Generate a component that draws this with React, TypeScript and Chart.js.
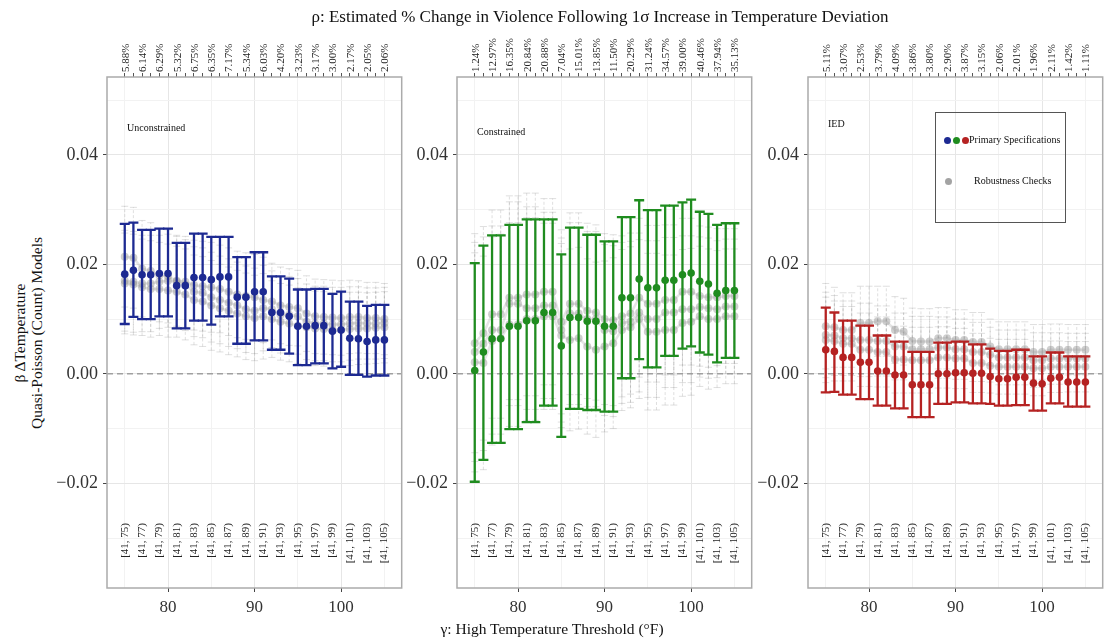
import React, { useEffect, useRef } from "react";
import { Chart, registerables } from "chart.js";

Chart.register(...registerables);

const FONT = "'Liberation Serif', 'DejaVu Serif', serif";

// ---------- shared axis data ----------
const thresholds = [75, 76, 77, 78, 79, 80, 81, 82, 83, 84, 85, 86, 87, 88, 89, 90, 91, 92, 93, 94, 95, 96, 97, 98, 99, 100, 101, 102, 103, 104, 105];
const binLabelThresholds = [75, 77, 79, 81, 83, 85, 87, 89, 91, 93, 95, 97, 99, 101, 103, 105];
const binLabels = ["[41, 75)", "[41, 77)", "[41, 79)", "[41, 81)", "[41, 83)", "[41, 85)", "[41, 87)", "[41, 89)", "[41, 91)", "[41, 93)", "[41, 95)", "[41, 97)", "[41, 99)", "[41, 101)", "[41, 103)", "[41, 105)"];
const xMajorTicks = [80, 90, 100];
const xMajorLabels = ["80", "90", "100"];
const xMinorTicks = [75, 85, 95, 105];
const yMajorTicks = [-0.02, 0, 0.02, 0.04];
const yMajorLabels = ["\u22120.02", "0.00", "0.02", "0.04"];
const yMinorTicks = [-0.03, -0.01, 0.01, 0.03, 0.05];
const X_MIN = 72.95;
const X_MAX = 107.0;
const Y_MIN = -0.0391;
const Y_MAX = 0.0542;

// ---------- Unconstrained ----------
const unconstrainedRho = ["5.88%", "6.14%", "6.29%", "5.32%", "6.75%", "6.35%", "7.17%", "5.34%", "6.03%", "4.20%", "3.23%", "3.17%", "3.00%", "2.17%", "2.05%", "2.06%"];
const unconstrainedEst = [0.0182, 0.0189, 0.0181, 0.0181, 0.0183, 0.0183, 0.0161, 0.0161, 0.0176, 0.0176, 0.0172, 0.0177, 0.0177, 0.0140, 0.0140, 0.0150, 0.0150, 0.0112, 0.0112, 0.0105, 0.0087, 0.0087, 0.0088, 0.0088, 0.0078, 0.0080, 0.0065, 0.0064, 0.0059, 0.0062, 0.0062];
const unconstrainedHi = [0.0274, 0.0276, 0.0263, 0.0263, 0.0265, 0.0265, 0.0239, 0.0239, 0.0256, 0.0256, 0.0250, 0.0250, 0.0250, 0.0213, 0.0213, 0.0222, 0.0222, 0.0178, 0.0178, 0.0174, 0.0154, 0.0154, 0.0155, 0.0155, 0.0146, 0.0150, 0.0132, 0.0132, 0.0124, 0.0126, 0.0126];
const unconstrainedLo = [0.0091, 0.0104, 0.0100, 0.0100, 0.0105, 0.0105, 0.0083, 0.0083, 0.0097, 0.0097, 0.0090, 0.0105, 0.0105, 0.0055, 0.0055, 0.0061, 0.0061, 0.0044, 0.0044, 0.0037, 0.0016, 0.0016, 0.0019, 0.0019, 0.0010, 0.0013, -0.0002, -0.0002, -0.0005, -0.0003, -0.0003];
const unconstrainedRobustA = [0.0214, 0.0212, 0.0192, 0.0188, 0.0180, 0.0178, 0.0170, 0.0168, 0.0162, 0.0160, 0.0158, 0.0155, 0.0150, 0.0145, 0.0142, 0.0140, 0.0135, 0.0132, 0.0125, 0.0122, 0.0120, 0.0110, 0.0105, 0.0104, 0.0103, 0.0102, 0.0104, 0.0104, 0.0102, 0.0102, 0.0100];
const unconstrainedRobustB = [0.0170, 0.0168, 0.0165, 0.0165, 0.0168, 0.0170, 0.0168, 0.0162, 0.0150, 0.0148, 0.0140, 0.0135, 0.0130, 0.0125, 0.0118, 0.0115, 0.0120, 0.0118, 0.0108, 0.0108, 0.0105, 0.0095, 0.0092, 0.0092, 0.0090, 0.0090, 0.0092, 0.0093, 0.0092, 0.0092, 0.0093];
const unconstrainedRobustC = [0.0165, 0.0163, 0.0158, 0.0155, 0.0155, 0.0152, 0.0150, 0.0145, 0.0135, 0.0132, 0.0125, 0.0120, 0.0115, 0.0110, 0.0105, 0.0102, 0.0105, 0.0100, 0.0095, 0.0092, 0.0088, 0.0085, 0.0083, 0.0082, 0.0080, 0.0080, 0.0082, 0.0083, 0.0083, 0.0084, 0.0085];
const unconstrainedRobustHalfCI = [0.0092, 0.0092, 0.0088, 0.0088, 0.0085, 0.0085, 0.0083, 0.0083, 0.0082, 0.0082, 0.0082, 0.0080, 0.0080, 0.0079, 0.0079, 0.0078, 0.0078, 0.0070, 0.0070, 0.0070, 0.0069, 0.0069, 0.0068, 0.0068, 0.0068, 0.0068, 0.0067, 0.0066, 0.0065, 0.0065, 0.0065];

// ---------- Constrained ----------
const constrainedRho = ["1.24%", "12.97%", "16.35%", "20.84%", "20.88%", "7.04%", "15.01%", "13.85%", "11.50%", "20.29%", "31.24%", "34.57%", "39.00%", "40.46%", "37.94%", "35.13%"];
const constrainedEst = [0.0006, 0.0040, 0.0064, 0.0064, 0.0087, 0.0087, 0.0097, 0.0097, 0.0112, 0.0112, 0.0051, 0.0103, 0.0103, 0.0096, 0.0096, 0.0087, 0.0087, 0.0139, 0.0139, 0.0173, 0.0157, 0.0157, 0.0171, 0.0171, 0.0181, 0.0184, 0.0169, 0.0164, 0.0147, 0.0152, 0.0152];
const constrainedHi = [0.0202, 0.0234, 0.0253, 0.0253, 0.0272, 0.0272, 0.0282, 0.0282, 0.0282, 0.0282, 0.0218, 0.0267, 0.0267, 0.0254, 0.0254, 0.0242, 0.0242, 0.0286, 0.0286, 0.0317, 0.0299, 0.0299, 0.0307, 0.0307, 0.0313, 0.0318, 0.0296, 0.0292, 0.0272, 0.0275, 0.0275];
const constrainedLo = [-0.0197, -0.0157, -0.0126, -0.0126, -0.0101, -0.0101, -0.0088, -0.0088, -0.0058, -0.0058, -0.0115, -0.0064, -0.0064, -0.0066, -0.0066, -0.0069, -0.0069, -0.0008, -0.0008, 0.0027, 0.0012, 0.0012, 0.0033, 0.0033, 0.0046, 0.0050, 0.0039, 0.0035, 0.0021, 0.0029, 0.0029];
const constrainedRobustA = [0.0056, 0.0074, 0.0109, 0.0109, 0.0139, 0.0139, 0.0145, 0.0145, 0.0150, 0.0150, 0.0095, 0.0128, 0.0128, 0.0115, 0.0112, 0.0100, 0.0098, 0.0105, 0.0110, 0.0139, 0.0128, 0.0128, 0.0135, 0.0135, 0.0150, 0.0150, 0.0142, 0.0140, 0.0140, 0.0142, 0.0142];
const constrainedRobustB = [0.0040, 0.0055, 0.0080, 0.0080, 0.0128, 0.0128, 0.0120, 0.0120, 0.0125, 0.0125, 0.0080, 0.0110, 0.0110, 0.0100, 0.0100, 0.0080, 0.0078, 0.0093, 0.0095, 0.0112, 0.0100, 0.0100, 0.0112, 0.0112, 0.0118, 0.0118, 0.0122, 0.0120, 0.0118, 0.0123, 0.0123];
const constrainedRobustC = [0.0021, 0.0020, 0.0060, 0.0065, 0.0090, 0.0090, 0.0100, 0.0100, 0.0105, 0.0105, 0.0070, 0.0062, 0.0065, 0.0050, 0.0044, 0.0050, 0.0056, 0.0080, 0.0085, 0.0100, 0.0077, 0.0077, 0.0080, 0.0080, 0.0093, 0.0095, 0.0105, 0.0100, 0.0100, 0.0105, 0.0105];
const constrainedRobustHalfCI = [0.0200, 0.0195, 0.0190, 0.0190, 0.0186, 0.0186, 0.0185, 0.0185, 0.0170, 0.0170, 0.0168, 0.0166, 0.0166, 0.0160, 0.0160, 0.0156, 0.0156, 0.0147, 0.0147, 0.0145, 0.0143, 0.0143, 0.0137, 0.0137, 0.0134, 0.0134, 0.0128, 0.0128, 0.0125, 0.0123, 0.0123];

// ---------- IED ----------
const iedRho = ["5.11%", "3.07%", "2.53%", "3.79%", "4.09%", "3.86%", "3.80%", "2.90%", "3.87%", "3.15%", "2.06%", "2.01%", "1.96%", "2.11%", "1.42%", "1.11%"];
const iedEst = [0.0044, 0.0041, 0.0030, 0.0030, 0.0021, 0.0021, 0.0005, 0.0005, -0.0002, -0.0002, -0.0020, -0.0020, -0.0020, 0.0000, 0.0000, 0.0002, 0.0002, 0.0001, 0.0001, -0.0005, -0.0009, -0.0009, -0.0006, -0.0006, -0.0017, -0.0018, -0.0008, -0.0006, -0.0015, -0.0015, -0.0015];
const iedHi = [0.0121, 0.0112, 0.0097, 0.0097, 0.0088, 0.0088, 0.0070, 0.0070, 0.0059, 0.0059, 0.0040, 0.0040, 0.0040, 0.0057, 0.0057, 0.0059, 0.0059, 0.0054, 0.0054, 0.0046, 0.0042, 0.0042, 0.0044, 0.0044, 0.0032, 0.0032, 0.0039, 0.0039, 0.0032, 0.0032, 0.0032];
const iedLo = [-0.0034, -0.0033, -0.0038, -0.0038, -0.0046, -0.0046, -0.0058, -0.0058, -0.0063, -0.0063, -0.0079, -0.0079, -0.0079, -0.0055, -0.0055, -0.0052, -0.0052, -0.0054, -0.0054, -0.0055, -0.0058, -0.0058, -0.0057, -0.0057, -0.0067, -0.0067, -0.0054, -0.0054, -0.0060, -0.0060, -0.0060];
const iedRobustA = [0.0087, 0.0085, 0.0080, 0.0080, 0.0093, 0.0093, 0.0096, 0.0096, 0.0080, 0.0077, 0.0060, 0.0059, 0.0059, 0.0065, 0.0065, 0.0062, 0.0062, 0.0058, 0.0058, 0.0050, 0.0045, 0.0045, 0.0045, 0.0045, 0.0040, 0.0040, 0.0044, 0.0044, 0.0044, 0.0044, 0.0044];
const iedRobustB = [0.0071, 0.0070, 0.0065, 0.0065, 0.0062, 0.0062, 0.0060, 0.0060, 0.0050, 0.0050, 0.0045, 0.0045, 0.0045, 0.0048, 0.0048, 0.0045, 0.0045, 0.0040, 0.0040, 0.0035, 0.0030, 0.0030, 0.0030, 0.0030, 0.0025, 0.0025, 0.0028, 0.0028, 0.0028, 0.0028, 0.0028];
const iedRobustC = [0.0062, 0.0060, 0.0055, 0.0055, 0.0044, 0.0044, 0.0040, 0.0040, 0.0026, 0.0026, 0.0025, 0.0025, 0.0025, 0.0030, 0.0030, 0.0028, 0.0028, 0.0020, 0.0020, 0.0015, 0.0013, 0.0013, 0.0013, 0.0013, 0.0010, 0.0010, 0.0013, 0.0013, 0.0013, 0.0013, 0.0013];
const iedRobustHalfCI = [0.0078, 0.0073, 0.0068, 0.0068, 0.0067, 0.0067, 0.0064, 0.0064, 0.0061, 0.0061, 0.0060, 0.0060, 0.0060, 0.0056, 0.0056, 0.0055, 0.0055, 0.0054, 0.0054, 0.0050, 0.0050, 0.0050, 0.0050, 0.0050, 0.0050, 0.0050, 0.0047, 0.0047, 0.0046, 0.0046, 0.0046];

const BLUE = "#1d2a92";
const GREEN = "#1f8c1f";
const RED = "#b52222";
const GRAY_PT = "rgba(140,140,140,0.42)";
const GRAY_LINE = "rgba(150,150,150,0.25)";
const GRAY_ERR = "rgba(150,150,150,0.3)";

type PanelSpec = {
  name: string;
  rho: string[];
  est: number[];
  lo: number[];
  hi: number[];
  robust: number[][];
  robustHalf: number[];
  color: string;
  nameDx: number;
  nameDy: number;
};

const panels: PanelSpec[] = [
  { name: "Unconstrained", rho: unconstrainedRho, est: unconstrainedEst, lo: unconstrainedLo, hi: unconstrainedHi, robust: [unconstrainedRobustA, unconstrainedRobustB, unconstrainedRobustC], robustHalf: unconstrainedRobustHalfCI, color: BLUE, nameDx: 20, nameDy: 51 },
  { name: "Constrained", rho: constrainedRho, est: constrainedEst, lo: constrainedLo, hi: constrainedHi, robust: [constrainedRobustA, constrainedRobustB, constrainedRobustC], robustHalf: constrainedRobustHalfCI, color: GREEN, nameDx: 20, nameDy: 55 },
  { name: "IED", rho: iedRho, est: iedEst, lo: iedLo, hi: iedHi, robust: [iedRobustA, iedRobustB, iedRobustC], robustHalf: iedRobustHalfCI, color: RED, nameDx: 20, nameDy: 47 },
];

const PANEL_LEFTS = [47, 397, 748];
const AXIS_W = 60;
const PLOT_W = 296;
const PAD_R = 6;
const CANVAS_W = AXIS_W + PLOT_W + PAD_R;
const CANVAS_H = 639;

const near = (a: number, b: number) => Math.abs(a - b) < 1e-9;

function errorSegments(lo: number[], hi: number[]) {
  const out: { x: number; y: number | null }[] = [];
  thresholds.forEach((x, i) => {
    out.push({ x, y: lo[i] }, { x, y: hi[i] }, { x, y: null });
  });
  return out;
}

const panelDecor = {
  id: "panelDecor",
  afterDatasetsDraw(chart: any, _args: any, opts: any) {
    const { ctx, chartArea: a, scales } = chart;
    ctx.save();
    ctx.font = `11px ${FONT}`;
    ctx.fillStyle = "#222";
    ctx.textBaseline = "middle";
    // in-panel bin labels
    ctx.textAlign = "right";
    binLabelThresholds.forEach((t, i) => {
      const x = scales.x.getPixelForValue(t);
      ctx.save();
      ctx.translate(x, a.bottom - 65);
      ctx.rotate(-Math.PI / 2);
      ctx.fillText(binLabels[i], 0, 0);
      ctx.restore();
    });
    // top rho labels
    ctx.textAlign = "left";
    binLabelThresholds.forEach((t, i) => {
      const x = scales.xTop.getPixelForValue(t);
      ctx.save();
      ctx.translate(x + 1, a.top - 5);
      ctx.rotate(-Math.PI / 2);
      ctx.fillText(opts.rho[i], 0, 0);
      ctx.restore();
    });
    ctx.font = `10px ${FONT}`;
    ctx.textAlign = "left";
    ctx.fillStyle = "#111";
    ctx.fillText(opts.name, a.left + opts.nameDx, a.top + opts.nameDy);
    ctx.strokeStyle = "#ababab";
    ctx.lineWidth = 1.5;
    ctx.strokeRect(a.left, a.top, a.right - a.left, a.bottom - a.top);
    ctx.restore();
  },
};

function Panel({ spec, left }: { spec: PanelSpec; left: number }) {
  const ref = useRef<HTMLCanvasElement | null>(null);
  useEffect(() => {
    const datasets: any[] = [];
    datasets.push({
      type: "line",
      data: errorSegments(spec.lo, spec.hi),
      borderColor: spec.color,
      borderWidth: 2.3,
      spanGaps: false,
      pointStyle: "line",
      pointRadius: 5,
      pointBorderColor: spec.color,
      pointBorderWidth: 2.3,
      order: 1,
    });
    datasets.push({
      type: "line",
      data: thresholds.map((x, i) => ({ x, y: spec.est[i] })),
      showLine: false,
      pointStyle: "circle",
      pointRadius: 3.8,
      pointBackgroundColor: spec.color,
      pointBorderWidth: 0,
      order: 0,
    });
    spec.robust.forEach((r, k) => {
      datasets.push({
        type: "line",
        data: errorSegments(
          r.map((v, i) => v - spec.robustHalf[i]),
          r.map((v, i) => v + spec.robustHalf[i])
        ),
        borderColor: GRAY_ERR,
        borderWidth: 1,
        borderDash: [3, 2],
        spanGaps: false,
        pointStyle: "line",
        pointRadius: 3.5,
        pointBorderColor: GRAY_ERR,
        pointBorderWidth: 1,
        order: 10 + k,
      });
      datasets.push({
        type: "line",
        data: thresholds.map((x, i) => ({ x, y: r[i] })),
        showLine: true,
        borderColor: GRAY_LINE,
        borderWidth: 2.5,
        pointStyle: "circle",
        pointRadius: 4,
        pointBackgroundColor: GRAY_PT,
        pointBorderWidth: 0,
        order: 5 + k,
      });
    });
    datasets.push({
      type: "line",
      data: [{ x: X_MIN, y: 0 }, { x: X_MAX, y: 0 }],
      borderColor: "#a0a0a0",
      borderWidth: 1.5,
      borderDash: [6, 4],
      pointRadius: 0,
      order: 50,
    });

    const chart = new Chart(ref.current as HTMLCanvasElement, {
      type: "line",
      data: { datasets },
      plugins: [panelDecor],
      options: {
        animation: false,
        responsive: false,
        layout: { padding: { left: 0, right: PAD_R, top: 0, bottom: 0 } },
        plugins: {
          legend: { display: false },
          tooltip: { enabled: false },
          panelDecor: { name: spec.name, nameDx: spec.nameDx, nameDy: spec.nameDy, rho: spec.rho },
        } as any,
        scales: {
          x: {
            type: "linear",
            position: "bottom",
            min: X_MIN,
            max: X_MAX,
            afterBuildTicks: (s: any) => {
              s.ticks = [...xMinorTicks, ...xMajorTicks].sort((a, b) => a - b).map((v) => ({ value: v }));
            },
            afterFit: (s: any) => {
              s.height = 51;
            },
            ticks: {
              autoSkip: false,
              maxRotation: 0,
              minRotation: 0,
              padding: 5,
              color: "#333",
              font: { family: FONT, size: 17 },
              callback: (v: any) => {
                const idx = xMajorTicks.findIndex((t) => near(t, Number(v)));
                return idx >= 0 ? xMajorLabels[idx] : "";
              },
            },
            grid: {
              color: (c: any) => (xMajorTicks.some((t) => near(t, c.tick?.value)) ? "#e6e6e6" : "#f2f2f2"),
              lineWidth: 1,
              tickLength: 4,
              tickColor: (c: any) => (xMajorTicks.some((t) => near(t, c.tick?.value)) ? "#444" : "rgba(0,0,0,0)"),
            },
            border: { display: false },
          },
          xTop: {
            type: "linear",
            position: "top",
            min: X_MIN,
            max: X_MAX,
            afterBuildTicks: (s: any) => {
              s.ticks = thresholds.map((v) => ({ value: v }));
            },
            afterFit: (s: any) => {
              s.height = 77;
            },
            ticks: {
              autoSkip: false,
              maxRotation: 0,
              minRotation: 0,
              callback: () => "",
            },
            grid: { drawOnChartArea: false, tickLength: 4, tickColor: "#555", lineWidth: 1 },
            border: { display: false },
          },
          y: {
            type: "linear",
            min: Y_MIN,
            max: Y_MAX,
            afterBuildTicks: (s: any) => {
              s.ticks = [...yMinorTicks, ...yMajorTicks].sort((a, b) => a - b).map((v) => ({ value: v }));
            },
            afterFit: (s: any) => {
              s.width = AXIS_W;
            },
            ticks: {
              autoSkip: false,
              padding: 5,
              color: "#333",
              font: { family: FONT, size: 18 },
              callback: (v: any) => {
                const idx = yMajorTicks.findIndex((t) => near(t, Number(v)));
                return idx >= 0 ? yMajorLabels[idx] : "";
              },
            },
            grid: {
              color: (c: any) => (yMajorTicks.some((t) => near(t, c.tick?.value)) ? "#e6e6e6" : "#f2f2f2"),
              lineWidth: 1,
              tickLength: 4,
              tickColor: (c: any) => (yMajorTicks.some((t) => near(t, c.tick?.value)) ? "#444" : "rgba(0,0,0,0)"),
            },
            border: { display: false },
          },
        } as any,
      },
    } as any);
    return () => chart.destroy();
  }, [spec]);
  return (
    <canvas
      ref={ref}
      width={CANVAS_W}
      height={CANVAS_H}
      style={{ position: "absolute", left, top: 0, width: CANVAS_W, height: CANVAS_H, display: "block" }}
    />
  );
}

const dot = (color: string, cx: number, cy: number): React.CSSProperties => ({
  position: "absolute",
  left: cx - 3.5,
  top: cy - 3.5,
  width: 7,
  height: 7,
  borderRadius: "50%",
  background: color,
});

export default function App() {
  return (
    <div
      style={{
        position: "absolute",
        left: 0,
        top: 0,
        width: 1104,
        height: 639,
        overflow: "hidden",
        background: "#fff",
        fontFamily: FONT,
        color: "#111",
      }}
    >
      {panels.map((p, i) => (
        <Panel key={p.name} spec={p} left={PANEL_LEFTS[i]} />
      ))}
      <div style={{ position: "absolute", left: 0, width: 1200, top: 7, textAlign: "center", fontSize: 17, lineHeight: "20px", whiteSpace: "nowrap" }}>
        ρ: Estimated % Change in Violence Following 1σ Increase in Temperature Deviation
      </div>
      <div style={{ position: "absolute", left: 0, width: 1104, top: 620, textAlign: "center", fontSize: 15.5, lineHeight: "18px", whiteSpace: "nowrap" }}>
        γ: High Temperature Threshold (°F)
      </div>
      <div
        style={{
          position: "absolute",
          left: 28,
          top: 333,
          width: 400,
          transform: "translate(-50%, -50%) rotate(-90deg)",
          textAlign: "center",
          fontSize: 15.5,
          lineHeight: "17px",
          whiteSpace: "nowrap",
        }}
      >
        <div>β ΔTemperature</div>
        <div>Quasi-Poisson (Count) Models</div>
      </div>
      <div style={{ position: "absolute", left: 935, top: 112, width: 131, height: 111, border: "1.5px solid #555", boxSizing: "border-box" }} />
      <div style={dot(BLUE, 947.5, 140)} />
      <div style={dot(GREEN, 956.5, 140)} />
      <div style={dot(RED, 965, 140)} />
      <div style={{ position: "absolute", left: 969, top: 133, fontSize: 10, lineHeight: "14px", whiteSpace: "nowrap" }}>Primary Specifications</div>
      <div style={dot("rgba(140,140,140,0.8)", 948, 181)} />
      <div style={{ position: "absolute", left: 974, top: 174, fontSize: 10, lineHeight: "14px", whiteSpace: "nowrap" }}>Robustness Checks</div>
    </div>
  );
}
